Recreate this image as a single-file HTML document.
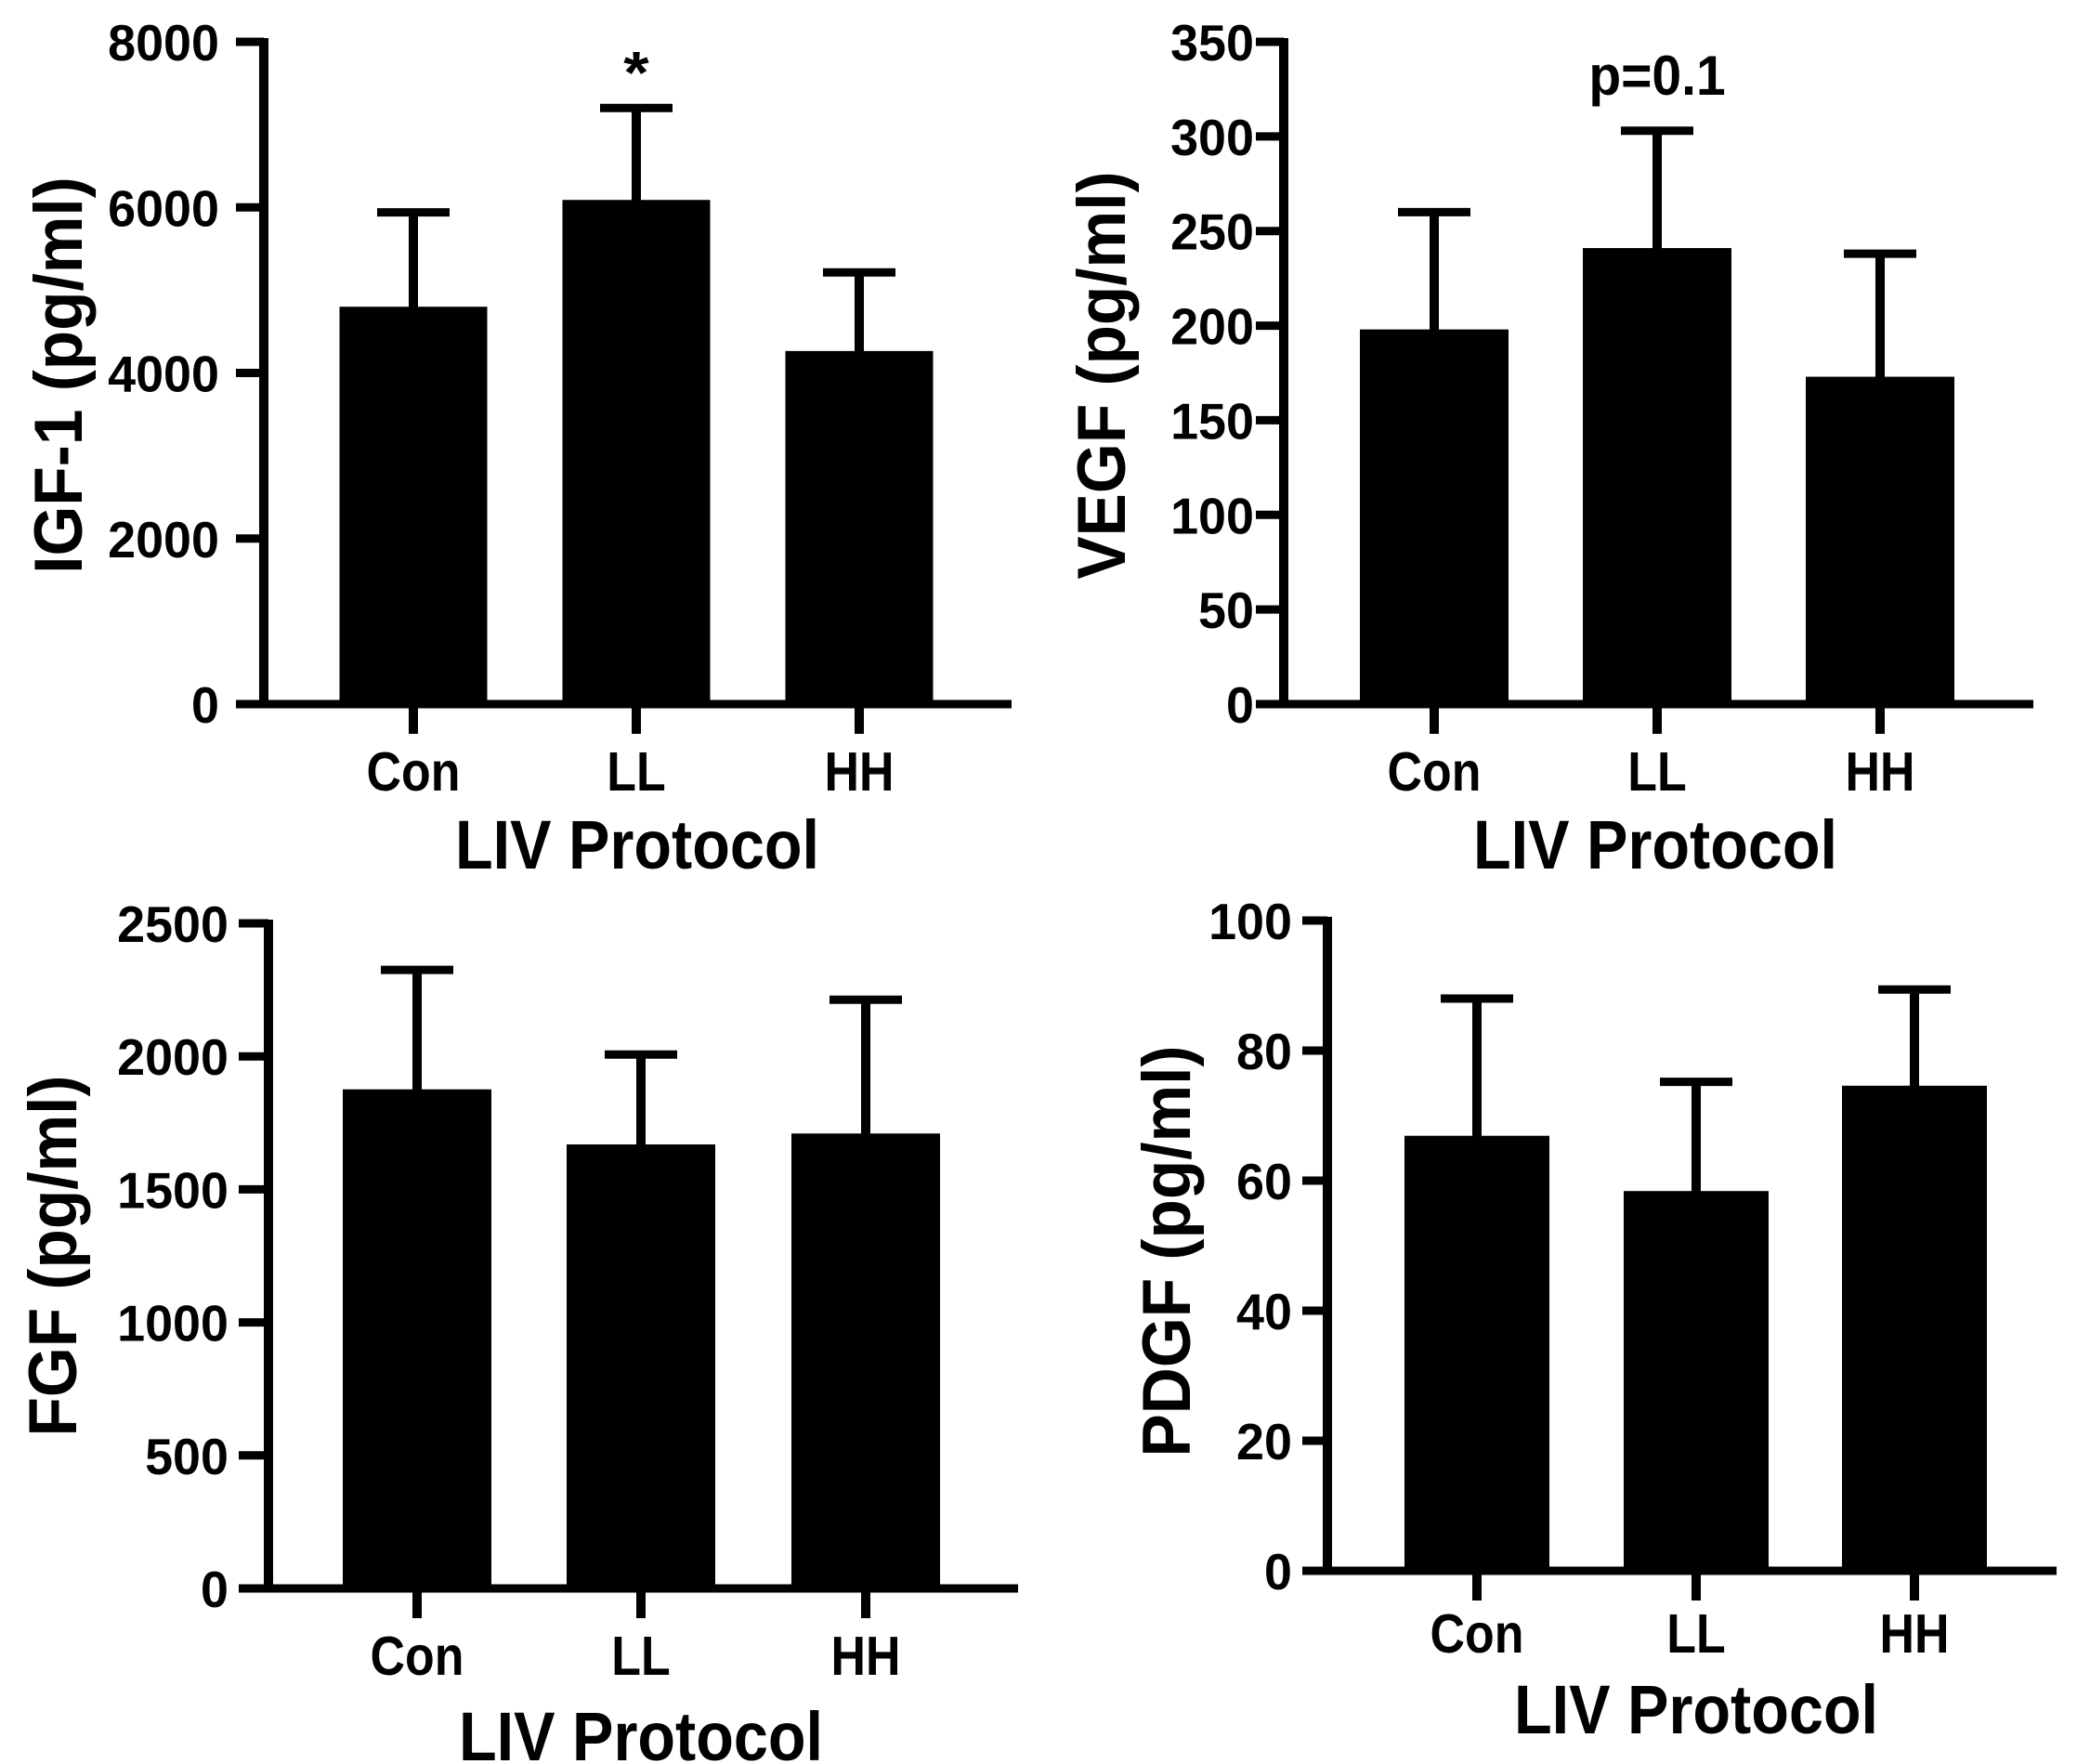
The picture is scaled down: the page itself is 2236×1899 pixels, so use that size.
<!DOCTYPE html>
<html><head><meta charset="utf-8"><style>
html,body{margin:0;padding:0;background:#fff;}
svg{display:block;}
text{font-family:"Liberation Sans",Arial,sans-serif;font-weight:bold;fill:#000;}
</style></head>
<body>
<svg id="fig" width="2236" height="1899" viewBox="0 0 2236 1899" xmlns="http://www.w3.org/2000/svg"></svg>
<script>
const categories = ["Con","LL","HH"];
const igfMeans = [4800, 6090, 4265];
const igfErr = [5940, 7200, 5215];
const igfTicks = [0,2000,4000,6000,8000];
const vegfMeans = [198, 241, 173];
const vegfErr = [260, 303, 238];
const vegfTicks = [0,50,100,150,200,250,300,350];
const fgfMeans = [1876, 1669, 1710];
const fgfErr = [2325, 2007, 2213];
const fgfTicks = [0,500,1000,1500,2000,2500];
const pdgfMeans = [66.9, 58.4, 74.6];
const pdgfErr = [88, 75.2, 89.4];
const pdgfTicks = [0,20,40,60,80,100];

const NS = "http://www.w3.org/2000/svg";
const svg = document.getElementById("fig");
function mk(tag, attrs, parent){
  const e = document.createElementNS(NS, tag);
  for (const k in attrs) e.setAttribute(k, attrs[k]);
  (parent||svg).appendChild(e);
  return e;
}
function panel(p){
  const g = mk("g", {});
  
  
  const yMax = p.ticks[p.ticks.length-1];
  const yScale = v => p.y0 - (v / yMax) * (p.y0 - p.yTop);
  const xScale = i => p.centers[i];
  p.means.forEach((m, i) => {
    const cx = xScale(i);
    const top = yScale(m);
    const eb = mk("line", {x1:cx, x2:cx, y1:yScale(p.err[i]), y2:top+2, stroke:"#000", "stroke-width":10}, g);
    
    
    const cap = mk("line", {x1:cx-39, x2:cx+39, y1:yScale(p.err[i]), y2:yScale(p.err[i]), stroke:"#000", "stroke-width":9}, g);
    
    
    const r = mk("rect", {x:cx-p.bw/2, y:top, width:p.bw, height:p.y0-top, fill:"#000"}, g);
    
    
    const t = mk("line", {x1:cx, x2:cx, y1:p.y0, y2:p.y0+32, stroke:"#000", "stroke-width":10}, g);
    
    
    const lab = mk("text", {transform:`translate(${cx},${p.catY}) scale(0.88,1)`, "text-anchor":"middle", "font-size":59}, g);
    lab.textContent = categories[i];
    
    
  });
  const ya = mk("line", {x1:p.axisX, x2:p.axisX, y1:p.yTop-4, y2:p.y0+4, stroke:"#000", "stroke-width":10}, g);
  
  
  const xa = mk("line", {x1:p.tickStart, x2:p.xEnd, y1:p.y0, y2:p.y0, stroke:"#000", "stroke-width":9}, g);
  
  
  p.ticks.forEach(v => {
    const y = yScale(v);
    const tk = mk("line", {x1:p.tickStart, x2:p.axisX, y1:y, y2:y, stroke:"#000", "stroke-width":9}, g);
    
    
    const tl = mk("text", {transform:`translate(${p.labRight},${y+20}) scale(0.98,1)`, "text-anchor":"end", "font-size":55}, g);
    tl.textContent = v;
    
    
  });
  const yt = mk("text", {transform:`translate(${p.ytX},${p.ytY}) rotate(-90) scale(0.95,1)`, "text-anchor":"middle", "font-size":73}, g);
  yt.textContent = p.ytitle;
  
  
  const xt = mk("text", {transform:`translate(${p.xtX},${p.xtY}) scale(0.9,1)`, "text-anchor":"middle", "font-size":74}, g);
  xt.textContent = "LIV Protocol";
  
  
  if (p.annot){
    const a = mk("text", {transform:`translate(${xScale(1)},${p.annotY}) scale(${p.annotSx},1)`, "text-anchor":"middle", "font-size":p.annotSize}, g);
    a.textContent = p.annot;
    
    
  }
}
panel({name:"igf1-panel", means:igfMeans, err:igfErr, ticks:igfTicks, axisX:284, tickStart:254, xEnd:1089, y0:758, yTop:45,
  centers:[445,685,925], bw:159, catY:851, labRight:236, ytitle:"IGF-1 (pg/ml)", ytX:88, ytY:404, xtX:686, xtY:935,
  annot:"*", annotY:100, annotSize:64, annotSx:1.1});
panel({name:"vegf-panel", means:vegfMeans, err:vegfErr, ticks:vegfTicks, axisX:1382, tickStart:1352, xEnd:2189, y0:758, yTop:45,
  centers:[1544,1784,2024], bw:160, catY:851, labRight:1350, ytitle:"VEGF (pg/ml)", ytX:1211, ytY:404, xtX:1782, xtY:935,
  annot:"p=0.1", annotY:102, annotSize:60, annotSx:0.95});
panel({name:"fgf-panel", means:fgfMeans, err:fgfErr, ticks:fgfTicks, axisX:289, tickStart:257, xEnd:1096, y0:1710, yTop:994,
  centers:[449,690,932], bw:160, catY:1803, labRight:246, ytitle:"FGF (pg/ml)", ytX:82, ytY:1352, xtX:690, xtY:1895});
panel({name:"pdgf-panel", means:pdgfMeans, err:pdgfErr, ticks:pdgfTicks, axisX:1429, tickStart:1402, xEnd:2214, y0:1691, yTop:991,
  centers:[1590,1826,2061], bw:156, catY:1779, labRight:1391, ytitle:"PDGF (pg/ml)", ytX:1281, ytY:1347, xtX:1826, xtY:1866});
</script>
</body></html>
